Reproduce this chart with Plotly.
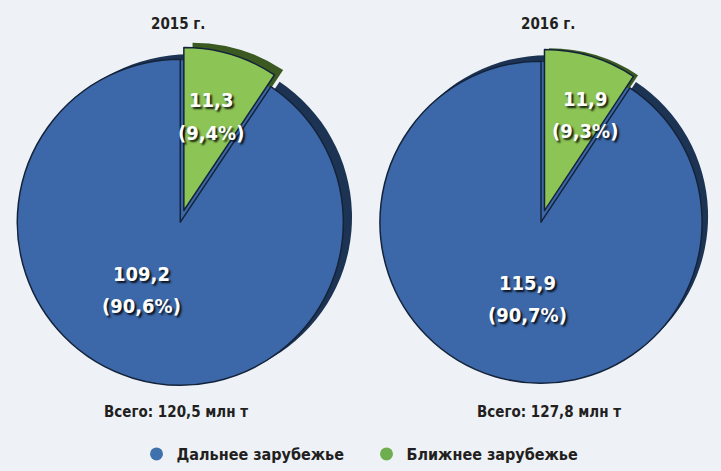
import plotly.graph_objects as go

# ---- data ----
years = ["2015 г.", "2016 г."]
categories = ["Ближнее зарубежье", "Дальнее зарубежье"]
near_values = [11.3, 11.9]
far_values = [109.2, 115.9]
near_pct = [9.4, 9.3]
far_pct = [90.6, 90.7]
totals = [120.5, 127.8]
legend_order = ["Дальнее зарубежье", "Ближнее зарубежье"]

# ---- style / layout ----
W, H = 721, 471
BG = "#eef2f7"
BLUE = "#3c68a9"
GREEN = "#8cc455"
BLUE_D = "#1c3354"
GREEN_D = "#3a5a22"
OUTLINE = "#14233a"
FONT = "Liberation Sans Narrow, DejaVu Sans Condensed, Arial Narrow, sans-serif"
PULL = 0.075
RADII = [168, 166]
centers = [(180, 229), (541, 229)]
SHADOW = [(9, -5), (6, -6)]
SH_PULL = [0.075, 0.045]


def fmt(v):
    return f"{v:.1f}".replace(".", ",")


def dom(cx, cy, r, pull):
    half = r * (1 + pull)
    x0, x1 = (cx - half) / W, (cx + half) / W
    y0, y1 = 1 - (cy + half) / H, 1 - (cy - half) / H
    return dict(x=[max(0, x0), min(1, x1)], y=[max(0, y0), min(1, y1)])


fig = go.Figure()

# shadow (3D side) pies
for i in range(2):
    cx, cy = centers[i]
    dx, dy = SHADOW[i]
    fig.add_trace(go.Pie(
        labels=categories, values=[near_values[i], far_values[i]],
        sort=False, direction="clockwise", rotation=0,
        pull=[SH_PULL[i], 0], textinfo="none", hoverinfo="skip",
        marker=dict(colors=[GREEN_D, BLUE_D], line=dict(color=BLUE_D, width=0)),
        domain=dom(cx + dx, cy + dy, RADII[i], SH_PULL[i]), showlegend=False,
    ))

# blue underlay (whole pie body) so the gap left by the pulled slice is filled
for i in range(2):
    cx, cy = centers[i]
    fig.add_trace(go.Pie(
        labels=["Всего"], values=[totals[i]],
        textinfo="none", hoverinfo="skip",
        marker=dict(colors=[BLUE], line=dict(color=BLUE, width=0)),
        domain=dom(cx, cy, RADII[i] - 1, 0), showlegend=False,
    ))

# main pies
for i in range(2):
    cx, cy = centers[i]
    fig.add_trace(go.Pie(
        labels=categories, values=[near_values[i], far_values[i]],
        sort=False, direction="clockwise", rotation=0,
        pull=[PULL, 0], textinfo="none",
        marker=dict(colors=[GREEN, BLUE], line=dict(color=OUTLINE, width=1.5)),
        domain=dom(cx, cy, RADII[i], PULL), showlegend=False,
    ))

# legend entries
col = {"Дальнее зарубежье": "#3f72ad", "Ближнее зарубежье": "#6fae4f"}
for name in legend_order:
    fig.add_trace(go.Scatter(x=[None], y=[None], mode="markers", name=name,
                             marker=dict(symbol="circle", size=13, color=col[name])))

ann = []
# (x, y of first line, y of second line) in pixels
label_pos = [((211, 103, 137), (141, 282, 315)), ((585, 102, 135), (527, 292, 325))]
title_x = [178, 548]
total_x = [176, 549]
for i in range(2):
    ann.append(dict(text=years[i], x=title_x[i] / W, y=1 - 25 / H, xref="paper", yref="paper",
                    xanchor="center", yanchor="middle", showarrow=False,
                    font=dict(family=FONT, size=15, color="#231f20", weight="bold")))
    ann.append(dict(text=f"Всего: {fmt(totals[i])} млн т", x=total_x[i] / W, y=1 - 425 / H,
                    xref="paper", yref="paper", xanchor="center", yanchor="middle", showarrow=False,
                    font=dict(family=FONT, size=15, color="#231f20", weight="bold")))
    for (lx, ly1, ly2), v, p in ((label_pos[i][0], near_values[i], near_pct[i]),
                                 (label_pos[i][1], far_values[i], far_pct[i])):
        for txt, ly in ((fmt(v), ly1), (f"({fmt(p)}%)", ly2)):
            ann.append(dict(text=txt, x=lx / W, y=1 - ly / H,
                            xref="paper", yref="paper", xanchor="center", yanchor="middle",
                            showarrow=False,
                            font=dict(family=FONT, size=20, color="white", weight="bold",
                                      shadow="2px 2px 2px rgba(0,0,0,0.85)")))

fig.update_layout(
    width=W, height=H, margin=dict(l=0, r=0, t=0, b=0),
    paper_bgcolor=BG, plot_bgcolor=BG,
    xaxis=dict(visible=False), yaxis=dict(visible=False),
    annotations=ann,
    legend=dict(orientation="h", x=0.5 + 6 / W, xanchor="center", y=1 - 468 / H, yanchor="middle",
                font=dict(family=FONT, size=16, color="#231f20", weight="bold"),
                entrywidth=185, bgcolor="rgba(0,0,0,0)", itemclick=False),
)

fig.write_html("out.html", config={"displayModeBar": False},
               post_script="document.body.style.margin='0';")
